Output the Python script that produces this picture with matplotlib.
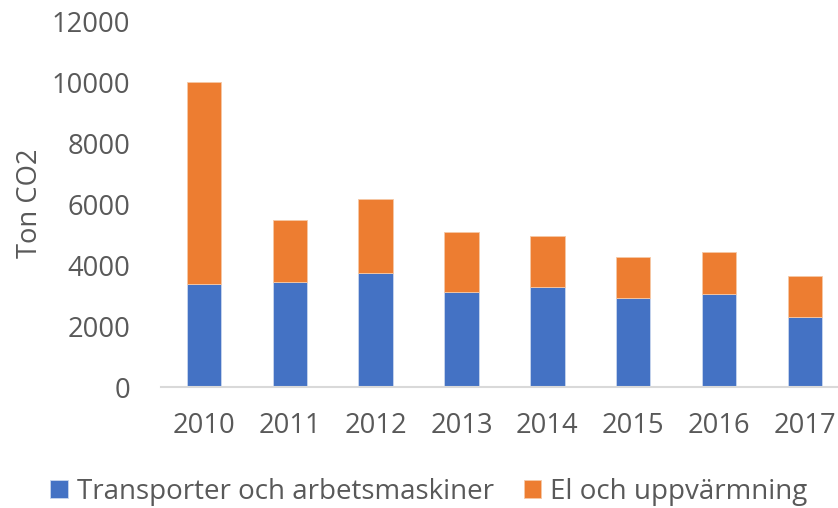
import matplotlib
matplotlib.use("Agg")
import matplotlib.pyplot as plt
import numpy as np

# values (ton CO2)
years = ["2010", "2011", "2012", "2013", "2014", "2015", "2016", "2017"]
transport = [3380, 3475, 3770, 3115, 3290, 2930, 3070, 2305]
el_uppv = [6655, 2015, 2425, 1980, 1680, 1365, 1370, 1345]
series_names = ["Transporter och arbetsmaskiner", "El och uppvärmning"]
yticks = [0, 2000, 4000, 6000, 8000, 10000, 12000]

BLUE = "#4472C4"
ORANGE = "#ED7D31"
TEXT = "#595959"

plt.rcParams["font.family"] = ["Open Sans", "DejaVu Sans"]

fig = plt.figure(figsize=(8.38, 5.08), dpi=100)
ax = fig.add_axes([0.192, 0.2376, 0.82, 0.7191])

x = np.arange(len(years))
b1 = ax.bar(x, transport, width=0.4, color=BLUE, edgecolor="#c9d6ee", linewidth=0.6,
            label=series_names[0], zorder=2)
b2 = ax.bar(x, el_uppv, width=0.4, bottom=transport, color=ORANGE, edgecolor="#f6c8a6",
            linewidth=0.6, label=series_names[1], zorder=2)

ax.set_xlim(-0.5, len(years) - 0.5)
ax.set_ylim(0, 12000)
ax.set_yticks(yticks)
ax.set_yticklabels([str(v) for v in yticks])
ax.set_xticks(x)
ax.set_xticklabels(years)

for s in ["top", "right", "left"]:
    ax.spines[s].set_visible(False)
ax.spines["bottom"].set_color("#D9D9D9")
ax.spines["bottom"].set_linewidth(1.5)

ax.tick_params(axis="y", length=0, pad=22, labelsize=19.7, labelcolor=TEXT)
ax.tick_params(axis="x", length=0, pad=18, labelsize=19.7, labelcolor=TEXT)

ax.set_ylabel("Ton CO2", fontsize=19.7, color=TEXT)
ax.yaxis.set_label_coords(-0.17, 0.505)

leg = fig.legend(handles=[b1, b2], loc="center", bbox_to_anchor=(0.512, 0.031),
                 ncol=2, frameon=False, fontsize=20, handlelength=0.62,
                 handleheight=0.62, handletextpad=0.35, columnspacing=1.05,
                 labelcolor=TEXT)

fig.savefig("out.png", dpi=100)
